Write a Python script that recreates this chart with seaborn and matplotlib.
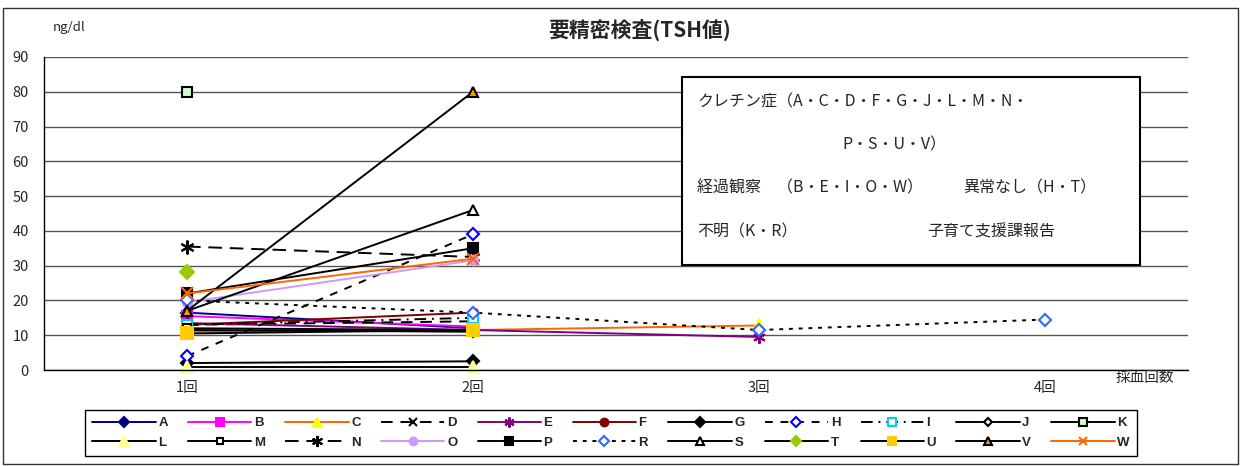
import numpy as np
import pandas as pd
import matplotlib
matplotlib.use("Agg")
import matplotlib.pyplot as plt
import seaborn as sns
from matplotlib.patches import Rectangle

rounds = ["1回", "2回", "3回", "4回"]
nan = np.nan
A = [16.5, 12.0, nan, nan]
B = [15.5, 12.5, nan, nan]
C = [11.0, 11.5, 12.8, nan]
D = [13.0, 14.0, nan, nan]
E = [13.5, 11.5, 9.5, nan]
F = [13.0, 16.5, nan, nan]
G = [2.0, 2.5, nan, nan]
H = [4.0, 39.0, nan, nan]
I = [13.0, 15.0, nan, nan]
J = [11.5, 11.0, nan, nan]
K = [80.0, nan, nan, nan]
L = [1.0, 1.0, nan, nan]
M = [12.0, 11.5, nan, nan]
N = [35.5, 32.5, nan, nan]
O = [19.5, 31.5, nan, nan]
P = [22.0, 35.0, nan, nan]
R = [20.0, 16.5, 11.5, 14.5]
S = [17.0, 46.0, nan, nan]
T = [28.2, nan, nan, nan]
U = [10.5, 11.5, nan, nan]
V = [17.0, 80.0, nan, nan]
W = [22.0, 32.0, nan, nan]

series_names = ["A", "B", "C", "D", "E", "F", "G", "H", "I", "J", "K",
                "L", "M", "N", "O", "P", "R", "S", "T", "U", "V", "W"]
series_values = [A, B, C, D, E, F, G, H, I, J, K, L, M, N, O, P, R, S, T, U, V, W]

# line colour, line style, marker, marker face, marker edge, marker size
AST = (6, 2, 0)
styles = {
    "A": ("#000080", "-", "D", "#000080", "#000080", 6),
    "B": ("#FF00FF", "-", "s", "#FF00FF", "#FF00FF", 7),
    "C": ("#FF6600", "-", "^", "#FFFF00", "#FFFF00", 8),
    "D": ("black", (0, (6, 4)), "x", "black", "black", 7),
    "E": ("#800080", "-", AST, "#800080", "#800080", 9),
    "F": ("#800000", "-", "o", "#800000", "#800000", 7),
    "G": ("black", "-", "D", "black", "black", 6),
    "H": ("black", (0, (4, 4)), "D", "white", "#0000FF", 6),
    "I": ("black", (0, (6, 3, 1, 3)), "s", "white", "#00CCFF", 7),
    "J": ("black", "-", "D", "#CCFFFF", "black", 5),
    "K": ("black", "-", "s", "#CCFFCC", "black", 7),
    "L": ("black", "-", "^", "#FFFF99", "#FFFF99", 9),
    "M": ("black", "-", "s", "white", "black", 6),
    "N": ("black", (0, (7, 4)), AST, "black", "black", 10),
    "O": ("#CC99FF", "-", "o", "#CC99FF", "#CC99FF", 7),
    "P": ("black", "-", "s", "black", "black", 7),
    "R": ("black", (0, (2, 3)), "D", "white", "#3366FF", 6),
    "S": ("black", "-", "^", "white", "black", 7),
    "T": ("black", "-", "D", "#99CC00", "#99CC00", 7),
    "U": ("black", "-", "s", "#FFCC00", "#FFCC00", 8),
    "V": ("black", "-", "^", "#FF9900", "black", 7),
    "W": ("#FF6600", "-", "x", "#FF6600", "#FF6600", 8),
}

# long table for seaborn
rows = []
for name, vals in zip(series_names, series_values):
    for pos, v in enumerate(vals):
        rows.append({"series": name, "pos": pos, "value": v})
df = pd.DataFrame(rows).dropna()

sns.set_style("white")
plt.rcParams['font.family'] = ['Noto Sans CJK JP', 'DejaVu Sans']

fig = plt.figure(figsize=(12.43, 4.66), dpi=100)
ax = fig.add_axes([44 / 1243, 1 - 370 / 466, (1188 - 44) / 1243, (370 - 57) / 466])

for name in series_names:
    lc, ls, mk, mfc, mec, ms = styles[name]
    sns.lineplot(data=df[df["series"] == name], x="pos", y="value", ax=ax,
                 color=lc, linestyle=ls, linewidth=1.4, marker=mk,
                 markersize=ms, markerfacecolor=mfc, markeredgecolor=mec,
                 markeredgewidth=1.5, label=name, errorbar=None, sort=False,
                 clip_on=False)

leg = ax.get_legend()
if leg is not None:
    leg.remove()

# axes look
ax.set_xlim(-0.5, 3.5)
ax.set_ylim(0, 90)
ax.set_yticks(range(0, 91, 10))
ax.set_xticks(range(4))
ax.set_xticklabels(rounds, fontsize=10.5)
ax.set_xticks([0.5, 1.5, 2.5], minor=True)
ax.tick_params(axis="x", which="major", length=0, pad=8)
ax.tick_params(axis="x", which="minor", length=5, direction="out", width=1)
ax.tick_params(axis="y", length=5, direction="out", width=1, labelsize=10.5, pad=6)
ax.set_xlabel("")
ax.set_ylabel("")
ax.grid(axis="y", color="#555555", linewidth=1)
ax.grid(axis="x", visible=False)
ax.set_axisbelow(True)
for side in ["top", "right"]:
    ax.spines[side].set_visible(False)
for side in ["left", "bottom"]:
    ax.spines[side].set_color("black")
    ax.spines[side].set_linewidth(1)

# titles and unit labels
fig.text(640 / 1243, 1 - 30 / 466, "要精密検査(TSH値)", ha="center", va="center",
         fontsize=15, fontweight="bold")
fig.text(53 / 1243, 1 - 27 / 466, "ng/dl", ha="left", va="center", fontsize=9.5)
fig.text(1145 / 1243, 1 - 378 / 466, "採血回数", ha="center", va="center", fontsize=10.5)

# note box
fig.patches.append(Rectangle((682 / 1243, 1 - 265 / 466), (1140 - 682) / 1243,
                             (265 - 77) / 466, transform=fig.transFigure,
                             facecolor="white", edgecolor="black", linewidth=1.5,
                             zorder=3))
note_size = 11.5
fig.text(697 / 1243, 1 - 102 / 466, "クレチン症（A・C・D・F・G・J・L・M・N・",
         va="center", fontsize=note_size, zorder=4)
fig.text(842 / 1243, 1 - 145 / 466, "P・S・U・V）", va="center", fontsize=note_size, zorder=4)
fig.text(697 / 1243, 1 - 188 / 466, "経過観察　（B・E・I・O・W）", va="center",
         fontsize=note_size, zorder=4)
fig.text(963 / 1243, 1 - 188 / 466, "異常なし（H・T）", va="center", fontsize=note_size, zorder=4)
fig.text(697 / 1243, 1 - 232 / 466, "不明（K・R）", va="center", fontsize=note_size, zorder=4)
fig.text(927 / 1243, 1 - 232 / 466, "子育て支援課報告", va="center", fontsize=note_size, zorder=4)

# legend, row by row like the original (matplotlib fills by column)
handles, labels = ax.get_legend_handles_labels()
order = []
for c in range(11):
    order += [c, c + 11]
fig.legend([handles[i] for i in order], [labels[i] for i in order], ncol=11,
           loc="lower left", mode="expand",
           bbox_to_anchor=(85 / 1243, 1 - 456 / 466, (1137 - 85) / 1243, 44 / 466),
           frameon=True, fancybox=False, edgecolor="black", framealpha=1,
           handlelength=4.8, handletextpad=0.2, borderaxespad=0, borderpad=0.55,
           labelspacing=0.55, markerscale=0.8,
           prop={"family": "Liberation Sans", "weight": "bold", "size": 9.5})

# outer chart frame
fig.patches.append(Rectangle((3 / 1243, 2 / 466), (1238 - 3) / 1243, (458 - 2) / 466,
                             transform=fig.transFigure, facecolor="none",
                             edgecolor="#333333", linewidth=1))

plt.savefig("out.png", dpi=100)
